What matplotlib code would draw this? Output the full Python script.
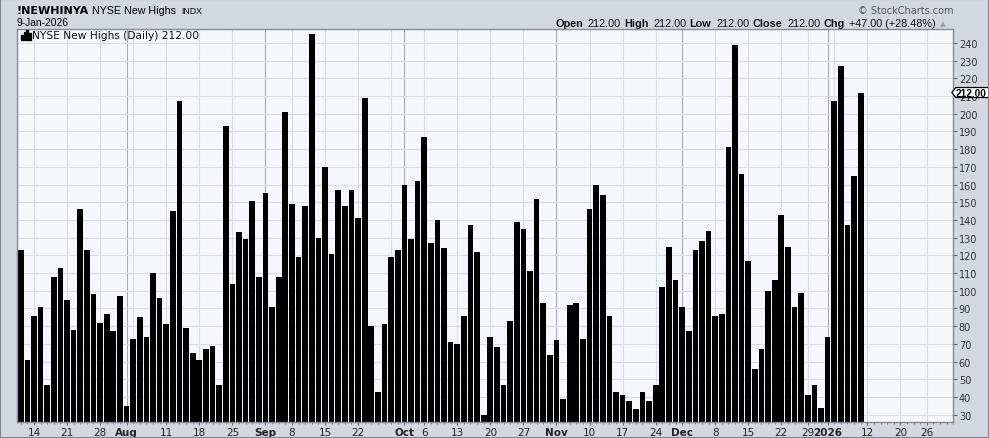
import numpy as np
import pandas as pd
import matplotlib
matplotlib.use("Agg")
import matplotlib.pyplot as plt
from matplotlib.patches import Polygon, Rectangle
from matplotlib.transforms import blended_transform_factory

# NYSE new highs, daily, 10-Jul-2025 .. 9-Jan-2026
new_highs = [
    123, 61, 86, 91, 47, 108, 113, 95, 78, 146, 123, 98, 82, 87, 77, 97, 35,
    73, 85, 74, 110, 96, 81, 145, 207, 79, 65, 61, 67, 69, 47, 193, 104, 133,
    129, 151, 108, 155, 91, 108, 201, 149, 119, 148, 245, 130, 170,
    121, 157, 148, 157, 141, 209, 80, 43, 81, 119, 123, 160, 129, 162, 187,
    127, 140, 124, 71, 70, 86, 137, 122, 30, 74, 68, 47, 83, 139, 135, 111,
    152, 93, 64, 72, 39, 92, 93, 73, 146, 160, 154, 86, 43, 41, 38, 33,
    43, 38, 47, 102, 125, 106, 91, 77, 123, 128, 134, 86, 87, 181, 239, 166,
    117, 56, 67, 100, 106, 143, 125, 91, 99, 41, 47, 34, 74, 207, 227, 137,
    165, 212,
]
first_day = "2025-07-10"
axis_end = "2026-01-30"
holidays = ["2025-09-01", "2025-11-27", "2025-12-25", "2026-01-01", "2026-01-19"]
y_ticks = list(range(30, 250, 10))

symbol = "!NEWHINYA"
full_name = "NYSE New Highs"
exchange = "INDX"
as_of = "9-Jan-2026"
legend_text = "NYSE New Highs (Daily) 212.00"
quote_parts = [("Open", True), ("212.00", False), ("High", True), ("212.00", False),
               ("Low", True), ("212.00", False), ("Close", True), ("212.00", False),
               ("Chg", True), ("+47.00 (+28.48%)", False)]

W, H = 989, 439
BG = "#d3d8e0"
PLOT_BG = "#f5f7fa"
GRID = "#d9dce1"
MONTH_GRID = "#a6abb4"
FRAME = "#858a94"
ARIAL = ["Liberation Sans", "DejaVu Sans"]


def fx(px):
    return px / W


def fy(py):
    return 1 - py / H


days = pd.bdate_range(first_day, axis_end)
days = days[~days.isin(pd.to_datetime(holidays))]
x = np.arange(len(new_highs))

week_starts = [i for i in range(1, len(days)) if days[i].weekday() < days[i - 1].weekday()]
month_starts = [i for i in range(1, len(days)) if days[i].month != days[i - 1].month]

tick_pos, tick_lab, tick_bold = [], [], []
for i in sorted(set(week_starts) | set(month_starts)):
    if i in month_starts:
        tick_pos.append(i)
        tick_lab.append(str(days[i].year) if days[i].month == 1 else days[i].strftime("%b"))
        tick_bold.append(True)
    elif min(abs(i - m) for m in month_starts) > 2:
        tick_pos.append(i)
        tick_lab.append(str(days[i].day))
        tick_bold.append(False)

plt.rcParams["font.family"] = ["DejaVu Sans"]
fig = plt.figure(figsize=(W / 100, H / 100), dpi=100, facecolor=BG)
ax = fig.add_axes([fx(17.3), fy(423.3), fx(953.3 - 17.3), (423.3 - 30) / H])
ax.set_facecolor(PLOT_BG)

for i in week_starts:
    if i not in month_starts:
        ax.axvline(i, color=GRID, lw=0.8, zorder=0)
for i in month_starts:
    ax.axvline(i, color=MONTH_GRID, lw=0.8, zorder=0)
for v in y_ticks:
    ax.axhline(v, color=GRID, lw=0.8, zorder=0)

ax.bar(x, new_highs, width=0.86, color="black", zorder=2)

ax.set_xlim(-0.52, 138.07)
ax.set_ylim(25.7, 247.9)

ax.yaxis.tick_right()
ax.set_yticks(y_ticks)
ax.set_yticklabels([str(v) for v in y_ticks])
ax.tick_params(axis="y", direction="out", length=3, width=0.8, color="#666666",
               labelsize=7, labelcolor="#333333", pad=1)

ax.set_xticks(tick_pos)
ax.set_xticklabels(tick_lab)
ax.set_xticks(np.arange(len(days)), minor=True)
ax.tick_params(axis="x", which="major", direction="out", length=2, width=0.8,
               color="#666666", labelsize=7.5, labelcolor="#222222", pad=1.5)
ax.tick_params(axis="x", which="minor", direction="out", length=1.5, width=0.6,
               color="#777777")
for lab, b in zip(ax.get_xticklabels(), tick_bold):
    if b:
        lab.set_fontweight("bold")

for s in ax.spines.values():
    s.set_color(FRAME)
    s.set_linewidth(1)

# last-value marker on the right axis (covers the 210 label, as on the site)
last = new_highs[-1]
tr = blended_transform_factory(ax.transAxes, ax.transData)
px_ax = 1 / (953.3 - 17.3)
px_dat = (247.9 - 25.7) / (423.3 - 30)
hh = 5.0 * px_dat
tip = 1 - 1.5 * px_ax
notch = tip + 4 * px_ax
right = 1 + 40 * px_ax
tag = Polygon([(tip, last), (notch, last + hh), (right, last + hh),
               (right, last - hh), (notch, last - hh)], closed=True,
              transform=tr, facecolor="white", edgecolor="black", lw=0.9,
              clip_on=False, zorder=5)
ax.add_patch(tag)
ax.text(notch + 0.2 * px_ax, last, f"{last:.2f}", transform=tr, ha="left",
        va="center", fontsize=7.3, fontweight="bold", color="black",
        family=ARIAL, clip_on=False, zorder=6)

# header
fig.canvas.draw()
renderer = fig.canvas.get_renderer()

t = fig.text(fx(16.5), fy(10.5), symbol, fontsize=8, fontweight="bold", va="center")
cur = 16.5 + t.get_window_extent(renderer).width + 3
t = fig.text(fx(cur), fy(10.5), full_name, fontsize=7.7, va="center", family=ARIAL)
cur += t.get_window_extent(renderer).width + 5
fig.text(fx(cur), fy(11), exchange, fontsize=6.3, va="center", family=ARIAL)
fig.text(fx(16.5), fy(23.5), as_of, fontsize=7.4, va="center", family=ARIAL)
fig.text(fx(953), fy(10.5), "\u00a9 StockCharts.com", fontsize=7, color="#555555",
         ha="right", va="center")

cur = 946
fig.text(fx(cur), fy(24), "\u25b2", fontsize=5.5, color="#9aa0aa", ha="right", va="center")
cur -= 10
for txt, bold in reversed(quote_parts):
    t = fig.text(fx(cur), fy(24), txt, fontsize=7.8, ha="right", va="center",
                 fontweight="bold" if bold else "normal", color="#111111",
                 family=ARIAL)
    w = t.get_window_extent(renderer).width
    cur -= w + (3 if bold else 5)

# legend inside the plot
for k, hgt in enumerate([5, 8, 10, 7]):
    fig.patches.append(Rectangle((fx(21 + k * 2.6), fy(40.5)), fx(1.8), hgt / H,
                                 transform=fig.transFigure, color="black", zorder=6))
fig.text(fx(32), fy(36), legend_text, fontsize=7.7, va="center", color="#111111")

fig.patches.append(Rectangle((0, 0), 1, 1, transform=fig.transFigure, fill=False,
                             edgecolor="#7f848d", lw=1.5))

fig.savefig("out.png", dpi=100, facecolor=BG)
